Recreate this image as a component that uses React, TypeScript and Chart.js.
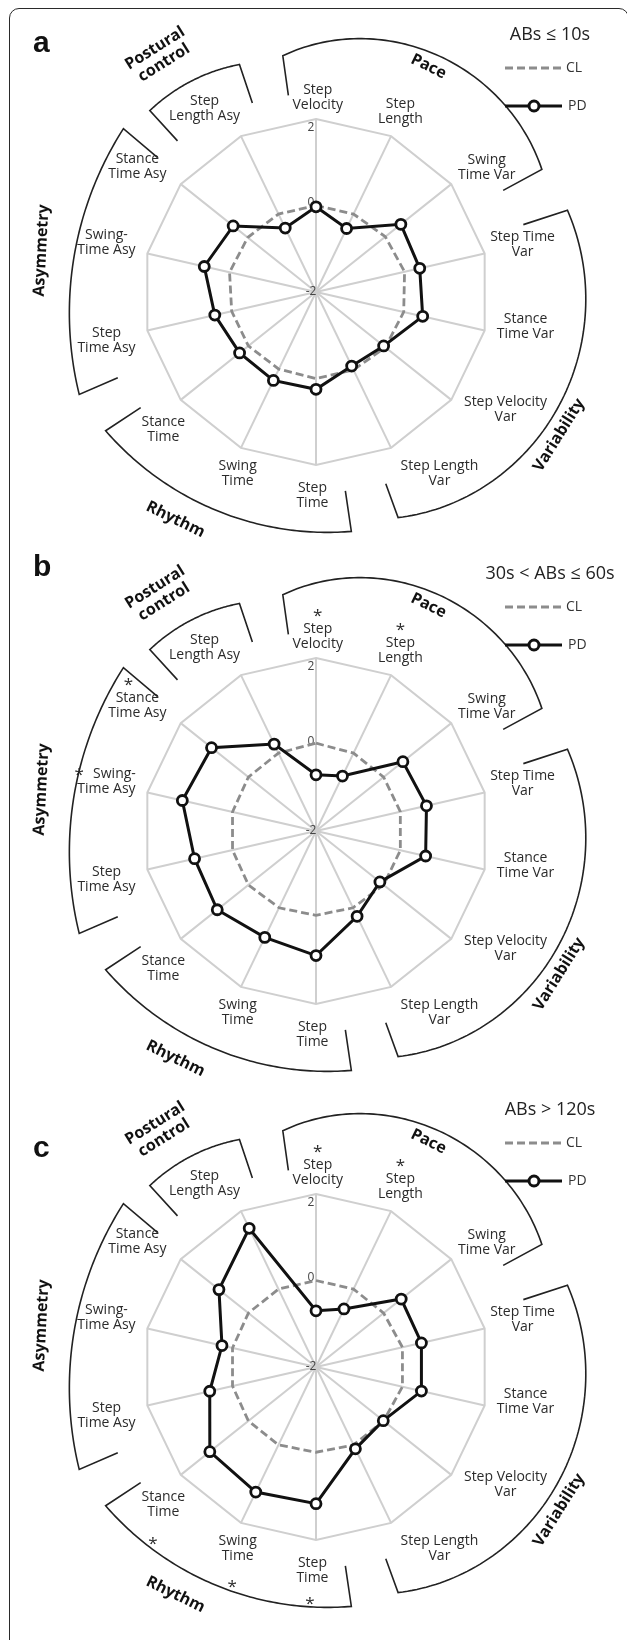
import React, { useEffect, useRef } from "react";
import { Chart, registerables } from "chart.js";

Chart.register(...registerables);

// ---------------- data ----------------
const categoryLabels: string[][] = [
  ["Step", "Velocity"],
  ["Step", "Length"],
  ["Swing", "Time Var"],
  ["Step Time", "Var"],
  ["Stance", "Time Var"],
  ["Step Velocity", "Var"],
  ["Step Length", "Var"],
  ["Step", "Time"],
  ["Swing", "Time"],
  ["Stance", "Time"],
  ["Step", "Time Asy"],
  ["Swing-", "Time Asy"],
  ["Stance", "Time Asy"],
  ["Step", "Length Asy"],
];

const pdA = [-0.03, -0.37, 0.51, 0.46, 0.53, 0.0, -0.1, 0.25, 0.27, 0.26, 0.4, 0.65, 0.45, -0.36];
const clA = [0.0, 0.0, 0.05, 0.1, 0.08, 0.05, 0.0, 0.0, -0.02, 0.0, 0.0, 0.05, 0.02, 0.0];

const pdB = [-0.7, -0.59, 0.57, 0.62, 0.6, -0.11, 0.19, 0.88, 0.73, 0.92, 0.88, 1.17, 1.09, 0.23];
const clB = [0.03, 0.0, 0.0, 0.0, 0.0, 0.0, -0.03, -0.05, -0.03, 0.0, -0.02, -0.02, 0.0, 0.0];

const pdC = [-0.7, -0.51, 0.52, 0.5, 0.5, -0.01, 0.1, 1.16, 1.21, 1.14, 0.52, 0.23, 0.87, 1.56];
const clC = [0.0, 0.0, 0.0, 0.05, 0.05, 0.0, 0.0, -0.03, 0.0, 0.0, -0.02, -0.02, 0.0, 0.0];

const scaleMin = -2;
const scaleMax = 2;
const scaleStep = 2;

const seriesNames = ["CL", "PD"];
const panelLetters = ["a", "b", "c"];
const panelTitles = ["ABs \u2264 10s", "30s < ABs \u2264 60s", "ABs > 120s"];

// indices of categories flagged with an asterisk in each panel
const sigA: number[] = [];
const sigB = [0, 1, 12, 11];
const sigC = [0, 1, 7, 8, 9];

const groupNames = [["Pace"], ["Variability"], ["Rhythm"], ["Asymmetry"], ["Postural", "control"]];

const panelPD = [pdA, pdB, pdC];
const panelCL = [clA, clB, clC];
const panelSig = [sigA, sigB, sigC];

// ---------------- layout ----------------
const W = 627;
const H = 565;
const panelTops = [0, 539, 1075];
const letterDy = [-240, -255, -210];
const BASE_R = 173;

// label anchors: [angle deg clockwise from top, radius px at BASE_R]
const labelAnchors: [number, number][] = [
  [0.5, 194], [25.1, 199], [54, 211], [77, 212], [99.4, 212.4], [121.8, 223], [145.8, 219.6],
  [181, 203.7], [203.3, 198], [227.9, 205.7], [257, 215], [283.4, 215.4], [305, 218], [328.7, 214.6],
];

// asterisk placements
const starLayout: Record<number, { mode: string; dx?: number; a?: number; r?: number }> = {
  0: { mode: "above", dx: 0 },
  1: { mode: "above", dx: 0 },
  12: { mode: "above", dx: -9 },
  11: { mode: "left" },
  7: { mode: "polar", a: 181.5, r: 235 },
  8: { mode: "polar", a: 201, r: 234 },
  9: { mode: "polar", a: 223, r: 239 },
};

// brackets: angles in degrees, radii in px (at BASE_R)
const brackets = [
  { a0: -8, a1: 61.5, r: [238.5, 266, 257], ri: [198.5, 213], ta: 26.5, tr: 252, rot: 26 },
  { a0: 72, a1: 160, r: [264.4, 268, 240], ri: [218, 204], ta: 120.5, tr: 282, rot: -58 },
  { a0: 171.6, a1: 236.6, r: [242, 240, 252], ri: [201, 210], ta: 211.7, tr: 267.5, rot: 26 },
  { a0: 246.6, a1: 310.3, r: [258, 244.5, 252.5], ri: [216, 208], ta: 278.6, tr: 277.6, rot: -87 },
  { a0: 317.5, a1: 341.4, r: [246, 245, 240], ri: [205, 199.5], ta: 326.5, tr: 283.5, rot: -32 },
];

const LABEL_FONT = '14px "Open Sans"';
const FONT_FAMILY = '"Open Sans"';

function polar(xc: number, yc: number, deg: number, r: number) {
  const t = (deg * Math.PI) / 180;
  return { x: xc + r * Math.sin(t), y: yc - r * Math.cos(t) };
}

function lagrange(a: number, pts: [number, number][]) {
  let s = 0;
  for (let i = 0; i < pts.length; i++) {
    let l = 1;
    for (let j = 0; j < pts.length; j++) {
      if (j !== i) l *= (a - pts[j][0]) / (pts[i][0] - pts[j][0]);
    }
    s += l * pts[i][1];
  }
  return s;
}

function makeDecor(p: number) {
  return {
    id: "decor" + p,
    beforeDatasetsDraw(chart: any) {
      const s = chart.scales.r;
      const ctx = chart.ctx;
      ctx.save();
      ctx.font = '12px "Open Sans"';
      ctx.fillStyle = "#444";
      ctx.textAlign = "center";
      ctx.textBaseline = "middle";
      s.ticks.forEach((t: any) => {
        const d = s.getDistanceFromCenterForValue(t.value);
        const dy = t.value === s.max ? 9 : t.value === s.min ? 0 : -3;
        ctx.fillText(String(t.label), s.xCenter - 5, s.yCenter - d + dy);
      });
      ctx.restore();
    },
    afterDraw(chart: any) {
      const s = chart.scales.r;
      const ctx = chart.ctx;
      const xc = s.xCenter;
      const yc = s.yCenter;
      const k = s.drawingArea / BASE_R;
      const sig = panelSig[p];

      ctx.save();
      // category labels
      ctx.font = LABEL_FONT;
      ctx.fillStyle = "#2b2b2b";
      ctx.textAlign = "center";
      ctx.textBaseline = "middle";
      categoryLabels.forEach((lines, i) => {
        const an = polar(xc, yc, labelAnchors[i][0], labelAnchors[i][1] * k);
        const n = lines.length;
        const flagged = sig.includes(i);
        const lay = starLayout[i];
        lines.forEach((ln, j) => {
          const y = an.y + (j - (n - 1) / 2) * 15;
          let x = an.x;
          if (flagged && lay && lay.mode === "left" && j === 0) {
            const w = ctx.measureText(ln).width;
            x = an.x + 8;
            ctx.save();
            ctx.font = '17px "Open Sans"';
            ctx.fillText("*", x - w / 2 - 14, y + 2);
            ctx.restore();
          }
          ctx.fillText(ln, x, y);
        });
        if (flagged && lay) {
          ctx.save();
          ctx.font = '17px "Open Sans"';
          if (lay.mode === "above") {
            const y0 = an.y - ((n - 1) / 2) * 15 - 15;
            ctx.fillText("*", an.x + (lay.dx || 0), y0 + 2);
          } else if (lay.mode === "polar") {
            const pp = polar(xc, yc, lay.a!, lay.r! * k);
            ctx.fillText("*", pp.x, pp.y + 2);
          }
          ctx.restore();
        }
      });

      // brackets
      ctx.strokeStyle = "#222";
      ctx.lineWidth = 1.6;
      ctx.lineJoin = "miter";
      brackets.forEach((b, gi) => {
        const am = (b.a0 + b.a1) / 2;
        const pts: [number, number][] = [
          [b.a0, b.r[0]],
          [am, b.r[1]],
          [b.a1, b.r[2]],
        ];
        ctx.beginPath();
        const st = polar(xc, yc, b.a0, b.ri[0] * k);
        ctx.moveTo(st.x, st.y);
        const steps = 80;
        for (let q = 0; q <= steps; q++) {
          const a = b.a0 + ((b.a1 - b.a0) * q) / steps;
          const pp = polar(xc, yc, a, lagrange(a, pts) * k);
          ctx.lineTo(pp.x, pp.y);
        }
        const en = polar(xc, yc, b.a1, b.ri[1] * k);
        ctx.lineTo(en.x, en.y);
        ctx.stroke();

        // group text
        const tp = polar(xc, yc, b.ta, b.tr * k);
        ctx.save();
        ctx.translate(tp.x, tp.y);
        ctx.rotate((b.rot * Math.PI) / 180);
        ctx.font = "bold 16px " + FONT_FAMILY;
        ctx.fillStyle = "#111";
        ctx.textAlign = "center";
        ctx.textBaseline = "middle";
        const gl = groupNames[gi];
        gl.forEach((t, j) => {
          ctx.fillText(t, 0, (j - (gl.length - 1) / 2) * 17);
        });
        ctx.restore();
      });

      // title
      ctx.font = "18px " + FONT_FAMILY;
      ctx.fillStyle = "#222";
      ctx.textAlign = "center";
      ctx.fillText(panelTitles[p], 550, yc - 257);

      // legend
      const lx0 = 505;
      const lx1 = 562;
      const yCL = yc - 224;
      const yPD = yc - 186;
      ctx.lineWidth = 2.8;
      ctx.strokeStyle = "#8c8c8c";
      ctx.setLineDash([8, 4]);
      ctx.beginPath();
      ctx.moveTo(lx0, yCL);
      ctx.lineTo(lx1, yCL);
      ctx.stroke();
      ctx.setLineDash([]);
      ctx.strokeStyle = "#111";
      ctx.lineWidth = 3;
      ctx.beginPath();
      ctx.moveTo(lx0, yPD);
      ctx.lineTo(lx1, yPD);
      ctx.stroke();
      ctx.beginPath();
      ctx.arc(534, yPD, 5, 0, Math.PI * 2);
      ctx.fillStyle = "#fff";
      ctx.fill();
      ctx.stroke();
      ctx.font = "14px " + FONT_FAMILY;
      ctx.fillStyle = "#333";
      ctx.textAlign = "left";
      ctx.fillText(seriesNames[0], 566, yCL);
      ctx.fillText(seriesNames[1], 568, yPD);

      // panel letter
      ctx.font = 'bold 30px "Liberation Sans"';
      ctx.fillStyle = "#111";
      ctx.textAlign = "left";
      ctx.textBaseline = "alphabetic";
      ctx.fillText(panelLetters[p], 33, yc + letterDy[p]);
      ctx.restore();
    },
  };
}

function Panel({ p }: { p: number }) {
  const ref = useRef<HTMLCanvasElement>(null);
  useEffect(() => {
    const chart = new Chart(ref.current as HTMLCanvasElement, {
      type: "radar",
      data: {
        labels: categoryLabels,
        datasets: [
          {
            label: seriesNames[1],
            data: panelPD[p],
            borderColor: "#111",
            borderWidth: 3,
            pointRadius: 5,
            pointBackgroundColor: "#fff",
            pointBorderColor: "#111",
            pointBorderWidth: 2.8,
            fill: false,
            tension: 0,
          },
          {
            label: seriesNames[0],
            data: panelCL[p],
            borderColor: "#8c8c8c",
            borderWidth: 2.8,
            borderDash: [8, 4],
            pointRadius: 0,
            fill: false,
            tension: 0,
          },
        ],
      },
      options: {
        responsive: false,
        maintainAspectRatio: false,
        animation: false,
        devicePixelRatio: 1,
        layout: { padding: { left: 143, right: 137, top: 119, bottom: 100 } },
        plugins: { legend: { display: false }, title: { display: false }, tooltip: { enabled: false } },
        scales: {
          r: {
            min: scaleMin,
            max: scaleMax,
            ticks: { stepSize: scaleStep, display: false },
            pointLabels: { display: false },
            grid: {
              color: (c: any) => (c.tick && c.tick.value === scaleMax ? "#cfcfcf" : "rgba(0,0,0,0)"),
              lineWidth: 2,
            },
            angleLines: { color: "#cfcfcf", lineWidth: 2 },
          },
        },
      } as any,
      plugins: [makeDecor(p)],
    });
    return () => chart.destroy();
  }, [p]);
  return (
    <canvas
      ref={ref}
      width={W}
      height={H}
      style={{ position: "absolute", left: 0, top: panelTops[p], width: W, height: H }}
    />
  );
}

export default function App() {
  return (
    <div
      style={{
        position: "absolute",
        left: 0,
        top: 0,
        width: 627,
        height: 1640,
        overflow: "hidden",
        background: "#fff",
      }}
    >
      <div
        style={{
          position: "absolute",
          left: 9,
          top: 8,
          width: 620,
          height: 1720,
          boxSizing: "border-box",
          border: "1.6px solid #2a2a2a",
          borderRadius: 10,
        }}
      />
      {[0, 1, 2].map((p) => (
        <Panel key={p} p={p} />
      ))}
    </div>
  );
}
